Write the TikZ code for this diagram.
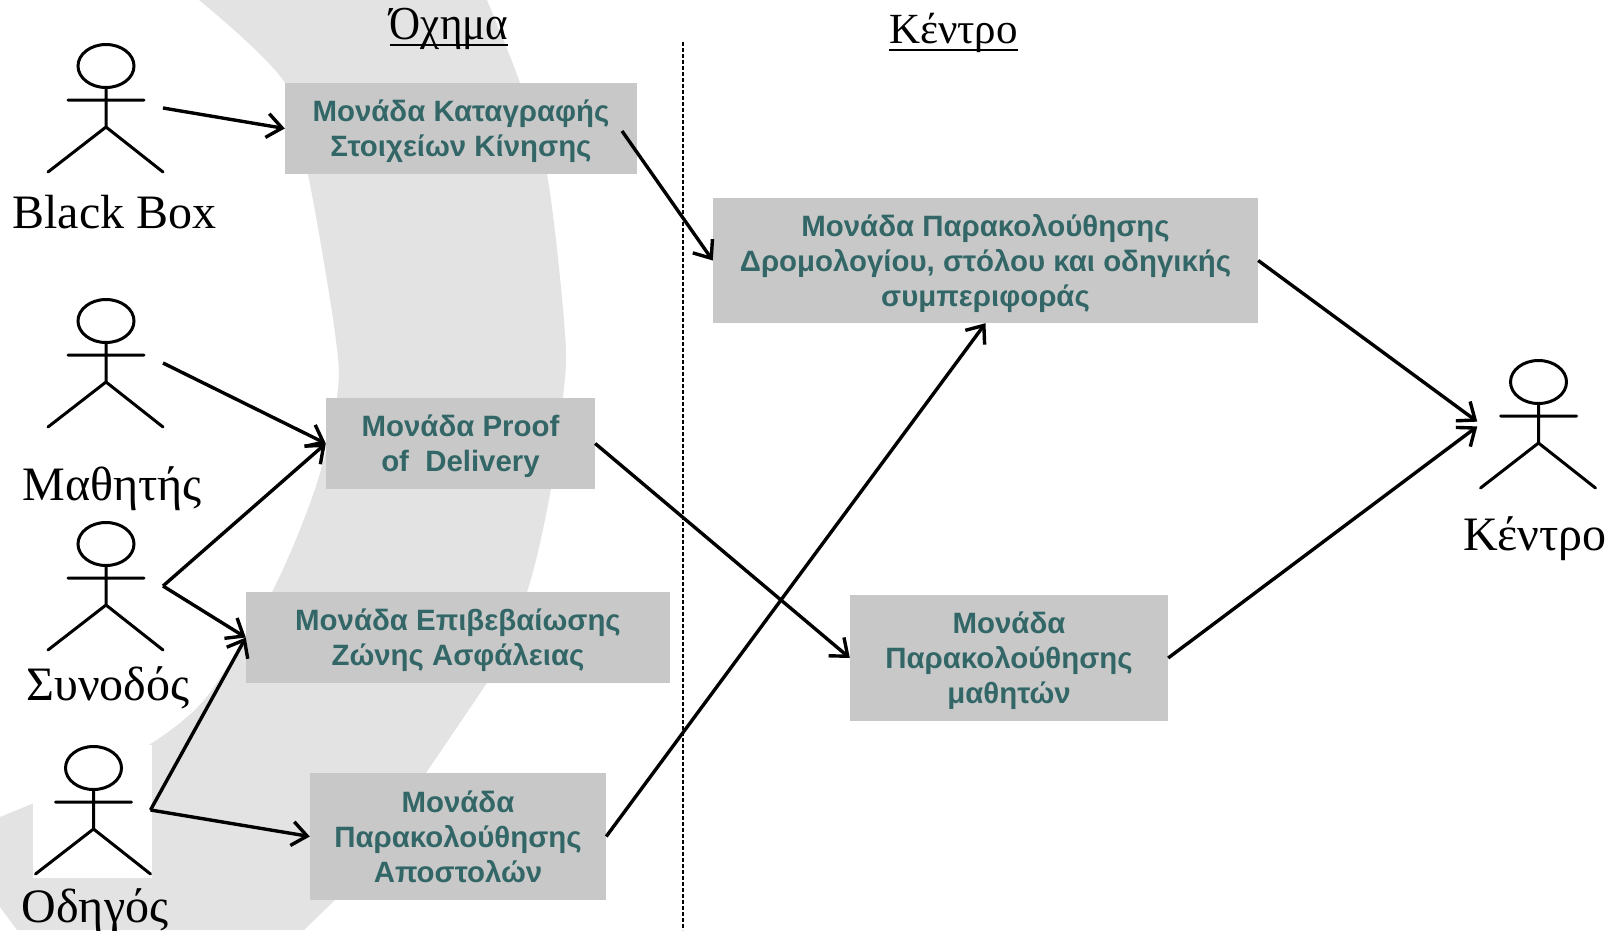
\documentclass[tikz,border=0pt]{standalone}
\usepackage{fontspec}
\usepackage{graphicx}
\setmainfont{Liberation Serif}
\newfontfamily\boxfont{Liberation Sans}[BoldFont={Liberation Sans Bold}]
\usetikzlibrary{arrows.meta}
\definecolor{swoosh}{HTML}{E3E3E3}
\definecolor{boxgrey}{HTML}{C8C8C8}
\definecolor{boxtext}{HTML}{336666}
\tikzset{
  unitbox/.style={fill=boxgrey,inner sep=0pt,align=center,text=boxtext,
    font=\boxfont\bfseries\fontsize{29.4}{35}\selectfont,text depth=0pt},
  actorbox/.style={minimum width=115pt,minimum height=128pt,inner sep=0pt,outer sep=0pt},
  stick/.style={draw=black,line width=3pt,line cap=round},
  flow/.style={draw=black,line width=3.4pt,-{Straight Barb[length=15pt,width=24pt,line width=3.4pt]}},
  actorlabel/.style={inner sep=0pt,anchor=base,font=\fontsize{48}{48}\selectfont},
  header/.style={inner sep=0pt,anchor=base,font=\fontsize{43}{43}\selectfont},
  rulebelow/.style={draw=black,line width=1.6pt},
}
\newcommand{\stickman}[3]{%
  \node[actorbox] (#1) at (#2,#3) {};
  \begin{scope}[shift={(#2,#3)}]
    \draw[stick] (0.5,-42) ellipse [x radius=28,y radius=21.5];
    \draw[stick] (0.5,-20) -- (0.5,19) (-37.5,-8) -- (38.5,-8)
      (-57.5,64) -- (0.5,19) -- (57.5,64);
  \end{scope}}
\begin{document}
\begin{tikzpicture}[x=1pt,y=-1pt]
\useasboundingbox (0,0) rectangle (1614,930);
% background swoosh
\fill[swoosh] plot[smooth,tension=0.55] coordinates {(199,0) (285,83) (308,174) (335,333) (337,397) (315,489) (272,592) (214,687) (187,717)}
  .. controls (150,750) and (80,785) .. (0,817)
  -- (0,907) -- (17,930) -- (304,930) -- (335,900) -- (426,773)
  -- plot[smooth,tension=0.55] coordinates {(487,683) (527,592) (551,489) (563,398) (565,333) (547,174) (520,83) (487,0)} -- cycle;
\fill[white] (33,745) rectangle (152,878);
% dashed divider
\coordinate (divtop) at (683,42);
\coordinate (divbot) at (683,930);
\draw[black,line width=1.2pt,dash pattern=on 4pt off 2pt] (divtop) -- (divbot);
% headers
\node[header] (hveh) at (449,39) {\scalebox{1}[1.1]{Όχημα}};
\node[header] (hcen) at (953.5,43) {Κέντρο};
\draw[rulebelow] ([yshift=-6pt]hveh.base west) -- ([yshift=-6pt]hveh.base east);
\draw[rulebelow] ([yshift=-7pt]hcen.base west) -- ([yshift=-7pt]hcen.base east);
% actors
\stickman{blackbox}{105.5}{108}
\stickman{student}{105.5}{363}
\stickman{escort}{105.5}{586}
\stickman{driver}{93}{810}
\stickman{center}{1538}{424}
\node[actorlabel] (lblack) at (114.5,228) {Black Box};
\node[actorlabel] (lstud) at (112,500) {Μαθητής};
\node[actorlabel] (lesc) at (108,700) {Συνοδός};
\node[actorlabel] (ldrv) at (95,922) {Οδηγός};
\node[actorlabel] (lcen) at (1535,550) {Κέντρο};
% units
\node[unitbox,minimum width=352pt,minimum height=91pt] (rec) at (461,128.5)
  {Μονάδα Καταγραφής\\Στοιχείων Κίνησης};
\node[unitbox,minimum width=269pt,minimum height=91pt] (pod) at (460.5,443.5)
  {Μονάδα Proof\\of\ \ Delivery};
\node[unitbox,minimum width=424pt,minimum height=91pt] (zone) at (458,637.5)
  {Μονάδα Επιβεβαίωσης\\Ζώνης Ασφάλειας};
\node[unitbox,minimum width=296pt,minimum height=127pt] (mis) at (458,836.5)
  {Μονάδα\\Παρακολούθησης\\Αποστολών};
\node[unitbox,minimum width=545pt,minimum height=125pt] (route) at (985.5,260.5)
  {Μονάδα Παρακολούθησης\\Δρομολογίου, στόλου και οδηγικής\\συμπεριφοράς};
\node[unitbox,minimum width=318pt,minimum height=126pt] (pupil) at (1009,658)
  {Μονάδα\\Παρακολούθησης\\μαθητών};
% connectors
\coordinate (recout) at (622,131);
\draw[flow] (blackbox.east) -- (rec.west);
\draw[flow] (student.east) -- (pod.west);
\draw[flow] (escort.east) -- (pod.west);
\draw[flow] (escort.east) -- (zone.west);
\draw[flow] (driver.east) -- (zone.west);
\draw[flow] (driver.east) -- (mis.west);
\draw[flow] (recout) -- (route.west);
\draw[flow] (pod.east) -- (pupil.west);
\draw[flow] (mis.east) -- (route.south);
\draw[flow,shorten >=4pt] (route.east) -- (center.west);
\draw[flow,shorten >=4pt] (pupil.east) -- (center.west);
\end{tikzpicture}
\end{document}
